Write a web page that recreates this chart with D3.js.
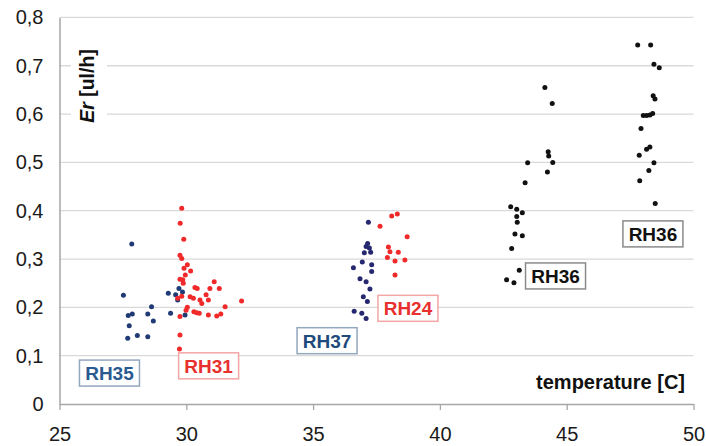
<!DOCTYPE html>
<html>
<head>
<meta charset="utf-8">
<script src="https://cdn.jsdelivr.net/npm/d3@7"></script>
<style>
  body { margin: 0; background: #fff; }
  svg { display: block; font-family: "Liberation Sans", Arial, sans-serif; }
</style>
</head>
<body>
<svg id="chart" width="706" height="446"></svg>
<script>
// Evaporation rate Er [ul/h] against temperature [C], grouped by relative humidity runs.
const rh35Temp = [27.85, 27.52, 28.63, 27.87, 27.71, 28.48, 28.70, 27.75, 28.07, 27.69, 28.48, 29.29, 29.38, 29.58, 29.71, 29.95, 29.66, 29.85];
const rh35Er   = [0.331, 0.225, 0.201, 0.186, 0.183, 0.186, 0.172, 0.162, 0.142, 0.136, 0.139, 0.229, 0.188, 0.226, 0.239, 0.184, 0.215, 0.232];

const rh31Temp = [29.82, 29.76, 29.90, 29.75, 29.82, 30.04, 29.91, 30.17, 29.96, 29.75, 29.86, 29.88, 31.10, 30.93, 31.30, 30.34, 30.43, 30.15, 29.82, 30.78, 30.28, 30.54, 30.87, 32.18, 30.61, 31.53, 30.04, 30.30, 30.41, 30.51, 30.87, 31.20, 31.36, 29.75, 29.99, 29.75, 29.73, 29.66];
const rh31Er   = [0.405, 0.374, 0.341, 0.308, 0.301, 0.288, 0.281, 0.275, 0.267, 0.258, 0.257, 0.250, 0.253, 0.239, 0.239, 0.241, 0.239, 0.222, 0.223, 0.226, 0.219, 0.215, 0.215, 0.213, 0.208, 0.201, 0.200, 0.191, 0.189, 0.188, 0.184, 0.182, 0.186, 0.181, 0.194, 0.143, 0.114, 0.219];

const rh37Temp = [37.18, 37.15, 37.09, 37.22, 37.02, 37.27, 36.94, 37.31, 36.59, 37.31, 36.85, 37.09, 37.24, 36.98, 37.14, 36.62, 36.92, 37.09];
const rh37Er   = [0.376, 0.332, 0.326, 0.323, 0.313, 0.314, 0.294, 0.288, 0.282, 0.274, 0.259, 0.253, 0.238, 0.222, 0.212, 0.192, 0.188, 0.177];

const rh24Temp = [38.10, 38.32, 37.64, 38.71, 37.97, 38.03, 38.36, 37.93, 38.23, 38.62, 38.23];
const rh24Er   = [0.389, 0.393, 0.368, 0.346, 0.325, 0.315, 0.314, 0.303, 0.296, 0.298, 0.267];

const rh36aTemp = [44.14, 44.43, 44.27, 44.29, 44.45, 43.46, 44.24, 43.36, 42.79, 43.03, 43.25, 43.03, 43.05, 42.96, 43.25, 42.83, 43.13, 42.63, 42.92];
const rh36aEr   = [0.655, 0.622, 0.522, 0.513, 0.500, 0.499, 0.480, 0.458, 0.408, 0.403, 0.396, 0.388, 0.376, 0.352, 0.348, 0.322, 0.277, 0.257, 0.251];

const rh36bTemp = [47.80, 48.31, 48.44, 48.65, 48.41, 48.48, 48.02, 48.15, 48.28, 48.39, 47.93, 48.28, 48.15, 47.86, 48.44, 48.24, 47.88, 48.49];
const rh36bEr   = [0.743, 0.743, 0.703, 0.696, 0.638, 0.631, 0.597, 0.597, 0.598, 0.601, 0.570, 0.532, 0.527, 0.515, 0.499, 0.483, 0.462, 0.415];

const xTicks = [25, 30, 35, 40, 45, 50];
const yTicks = [0, 0.1, 0.2, 0.3, 0.4, 0.5, 0.6, 0.7, 0.8];
const yTickLabels = ["0", "0,1", "0,2", "0,3", "0,4", "0,5", "0,6", "0,7", "0,8"];

// Run tags, anchored at the centre of each box in data units.
const tagNames = ["RH35", "RH31", "RH37", "RH24", "RH36", "RH36"];
const tagTemp  = [26.97, 30.88, 35.55, 38.74, 44.56, 48.40];
const tagEr    = [0.064, 0.079, 0.131, 0.198, 0.265, 0.352];

const svg = d3.select("#chart");
const x = d3.scaleLinear().domain([25, 50]).range([59.5, 693.5]);
const y = d3.scaleLinear().domain([0, 0.8]).range([404, 17.4]);

// Horizontal gridlines
svg.append("g").selectAll("line")
  .data(yTicks.filter(d => d > 0))
  .join("line")
  .attr("x1", x(25)).attr("x2", x(50))
  .attr("y1", d => y(d)).attr("y2", d => y(d))
  .attr("stroke", "#d9d9d9").attr("stroke-width", 1.3);

// Y axis
const yAxis = svg.append("g")
  .attr("transform", `translate(${x(25)},0)`)
  .call(d3.axisLeft(y).tickValues(yTicks)
    .tickFormat((d, i) => yTickLabels[i])
    .tickSize(0).tickPadding(16));
yAxis.select(".domain").attr("stroke", "#a6a6a6").attr("stroke-width", 1.5);
yAxis.selectAll("text").attr("font-size", 20).attr("fill", "#1a1a1a")
  .attr("font-family", "'Liberation Sans', Arial, sans-serif");

// X axis
const xAxis = svg.append("g")
  .attr("transform", `translate(0,${y(0)})`)
  .call(d3.axisBottom(x).tickValues(xTicks).tickSize(6).tickSizeOuter(0).tickPadding(17));
xAxis.select(".domain").attr("stroke", "#a6a6a6").attr("stroke-width", 1.5);
xAxis.selectAll(".tick line").attr("stroke", "#a6a6a6").attr("stroke-width", 1.3);
xAxis.selectAll("text").attr("font-size", 20).attr("fill", "#1a1a1a")
  .attr("font-family", "'Liberation Sans', Arial, sans-serif");

// Axis titles
svg.append("rect").attr("x", 71).attr("y", 45).attr("width", 36).attr("height", 83).attr("fill", "#fff");
const yTitle = svg.append("text")
  .attr("transform", `translate(94,86) rotate(-90)`)
  .attr("text-anchor", "middle")
  .attr("font-size", 19.5).attr("font-weight", "bold").attr("fill", "#111");
yTitle.append("tspan").attr("font-style", "italic").text("Er");
yTitle.append("tspan").text(" [ul/h]");

svg.append("text")
  .attr("x", 685).attr("y", 389)
  .attr("text-anchor", "end")
  .attr("font-size", 20).attr("font-weight", "bold").attr("fill", "#111")
  .text("temperature [C]");

// Scatter groups
const groups = [
  { t: rh35Temp, e: rh35Er, color: "#1f3a74" },
  { t: rh31Temp, e: rh31Er, color: "#f02a2a" },
  { t: rh37Temp, e: rh37Er, color: "#25286f" },
  { t: rh24Temp, e: rh24Er, color: "#f02a2a" },
  { t: rh36aTemp, e: rh36aEr, color: "#111111" },
  { t: rh36bTemp, e: rh36bEr, color: "#111111" }
];
groups.forEach(g => {
  svg.append("g").selectAll("circle")
    .data(d3.zip(g.t, g.e))
    .join("circle")
    .attr("cx", d => x(d[0]))
    .attr("cy", d => y(d[1]))
    .attr("r", 2.5)
    .attr("fill", g.color);
});

// Run tags
const tagText   = ["#2a5a90", "#e8302f", "#1f4a7c", "#e8302f", "#111111", "#111111"];
const tagBorder = ["#93a7bd", "#f4a5a5", "#93a7bd", "#f4a5a5", "#8a8a8a", "#8a8a8a"];
const boxW = 60, boxH = 26;
const tags = svg.append("g").selectAll("g")
  .data(d3.range(tagNames.length))
  .join("g")
  .attr("transform", i => `translate(${x(tagTemp[i])},${y(tagEr[i])})`);
tags.append("rect")
  .attr("x", -boxW / 2).attr("y", -boxH / 2)
  .attr("width", boxW).attr("height", boxH)
  .attr("fill", "#fff")
  .attr("stroke", i => tagBorder[i]).attr("stroke-width", 1.5);
tags.append("text")
  .attr("text-anchor", "middle").attr("dy", "0.36em")
  .attr("font-size", 19).attr("font-weight", "bold")
  .attr("fill", i => tagText[i])
  .text(i => tagNames[i]);
</script>
</body>
</html>
